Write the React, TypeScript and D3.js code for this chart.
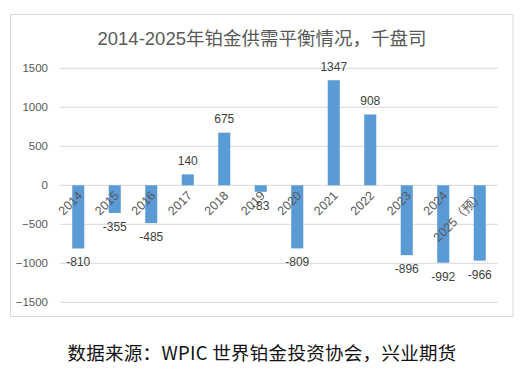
import { useEffect, useRef } from "react";
import * as d3 from "d3";

const years = ["2014", "2015", "2016", "2017", "2018", "2019", "2020", "2021", "2022", "2023", "2024", "2025（预）"];
const balance = [-810, -355, -485, 140, 675, -83, -809, 1347, 908, -896, -992, -966];
const yTicks = [-1500, -1000, -500, 0, 500, 1000, 1500];

const W = 525;
const H = 372;

export default function App() {
  const svgRef = useRef<SVGSVGElement>(null);

  useEffect(() => {
    if (!svgRef.current) return;
    const svg = d3.select(svgRef.current);
    svg.selectAll("*").remove();

    const plot = { left: 60, right: 498, top: 68.3, bottom: 302.3 };

    // chart frame
    svg
      .append("rect")
      .attr("x", 10.5)
      .attr("y", 14.5)
      .attr("width", 502.5)
      .attr("height", 302)
      .attr("fill", "#fff")
      .attr("stroke", "#D9D9D9");

    svg
      .append("text")
      .attr("x", 262)
      .attr("y", 45)
      .attr("text-anchor", "middle")
      .attr("font-family", "'Liberation Sans', 'Noto Sans CJK SC'")
      .attr("font-size", 18.5)
      .attr("fill", "#595959")
      .text("2014-2025年铂金供需平衡情况，千盘司");

    const x = d3
      .scaleBand()
      .domain(years)
      .range([plot.left, plot.right])
      .paddingInner(0.67)
      .paddingOuter(0.335);

    const y = d3.scaleLinear().domain([-1500, 1500]).range([plot.bottom, plot.top]);

    // gridlines
    svg
      .append("g")
      .selectAll("line")
      .data(yTicks)
      .enter()
      .append("line")
      .attr("x1", plot.left)
      .attr("x2", plot.right)
      .attr("y1", (d) => y(d))
      .attr("y2", (d) => y(d))
      .attr("stroke", "#D9D9D9")
      .attr("stroke-width", 1);

    // y-axis
    svg
      .append("g")
      .attr("transform", `translate(${plot.left - 12},0)`)
      .call(
        d3
          .axisLeft(y)
          .tickValues(yTicks)
          .tickSize(0)
          .tickPadding(0)
          .tickFormat(d3.format("d"))
      )
      .call((g) => g.select(".domain").remove())
      .call((g) =>
        g
          .selectAll("text")
          .attr("font-family", "'Liberation Sans', sans-serif")
          .attr("font-size", 11.5)
          .attr("fill", "#595959")
      );

    // bars
    svg
      .append("g")
      .selectAll("rect")
      .data(balance)
      .enter()
      .append("rect")
      .attr("x", (_, i) => x(years[i])!)
      .attr("width", x.bandwidth())
      .attr("y", (d) => y(Math.max(0, d)))
      .attr("height", (d) => Math.abs(y(d) - y(0)))
      .attr("fill", "#5B9BD5");

    // category labels
    svg
      .append("g")
      .selectAll("text")
      .data(years)
      .enter()
      .append("text")
      .attr(
        "transform",
        (d) => `translate(${x(d)! + x.bandwidth() / 2 + 5},${y(0) + 11}) rotate(-45)`
      )
      .attr("text-anchor", "end")
      .attr("font-family", "'Liberation Sans', 'Noto Sans CJK SC'")
      .attr("font-size", 12.5)
      .attr("fill", "#595959")
      .text((d) => d);

    // value labels
    svg
      .append("g")
      .selectAll("text")
      .data(balance)
      .enter()
      .append("text")
      .attr("x", (_, i) => x(years[i])! + x.bandwidth() / 2)
      .attr("y", (d) => (d >= 0 ? y(d) - 9.5 : y(d) + 18))
      .attr("text-anchor", "middle")
      .attr("font-family", "'Liberation Sans', sans-serif")
      .attr("font-size", 12)
      .attr("fill", "#404040")
      .text((d) => d);

    // source note
    svg
      .append("text")
      .attr("x", 262)
      .attr("y", 360)
      .attr("text-anchor", "middle")
      .attr("font-family", "'Noto Sans CJK SC'")
      .attr("font-size", 18.5)
      .attr("letter-spacing", 0.3)
      .attr("fill", "#111")
      .text("数据来源：WPIC 世界铂金投资协会，兴业期货");
  }, []);

  return (
    <svg
      ref={svgRef}
      width={W}
      height={H}
      style={{ position: "absolute", left: 0, top: 0, background: "#fff" }}
    />
  );
}
